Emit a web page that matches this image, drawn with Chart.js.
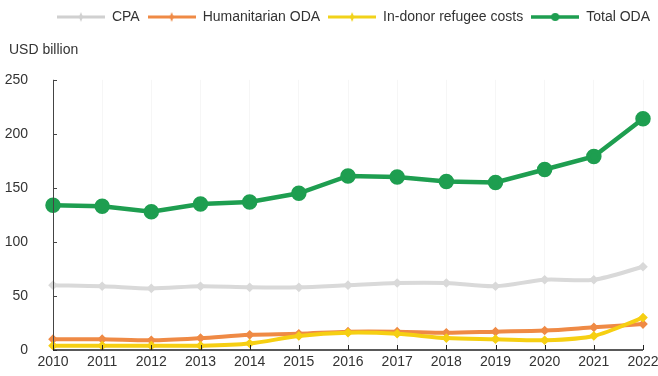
<!DOCTYPE html>
<html>
<head>
<meta charset="utf-8">
<script src="https://cdn.jsdelivr.net/npm/chart.js@4/dist/chart.umd.min.js"></script>
<style>
  html, body { margin: 0; padding: 0; background: #fff; }
  #wrap { width: 658px; height: 376px; }
</style>
</head>
<body>
<div id="wrap"><canvas id="oda-chart" width="658" height="376"></canvas></div>
<script>
// chart data
const years = ['2010', '2011', '2012', '2013', '2014', '2015', '2016', '2017', '2018', '2019', '2020', '2021', '2022'];
const cpa = [60, 59, 57, 59, 58, 58, 60, 62, 62, 59, 65, 65, 77];
const humanitarian = [10, 10, 9, 11, 14, 15, 17, 17, 16, 17, 18, 21, 24];
const refugeeCosts = [4, 4, 4, 4, 6, 13, 16, 15, 11, 10, 9, 13, 30];
const totalOda = [134, 133, 128, 135, 137, 145, 161, 160, 156, 155, 167, 179, 214];
const yTicks = [0, 50, 100, 150, 200, 250];
const unitLabel = 'USD billion';

const FONT = "'Liberation Sans Narrow', 'Arial Narrow', 'Liberation Sans', Arial, sans-serif";
const TEXT = '#333333';

// small canvas used as legend symbol: line with a marker in the middle
function legendIcon(color, big) {
  const c = document.createElement('canvas');
  c.width = 48; c.height = 12;
  const ctx = c.getContext('2d');
  ctx.strokeStyle = color;
  ctx.lineWidth = big ? 3.5 : 3;
  ctx.beginPath(); ctx.moveTo(0, 6); ctx.lineTo(48, 6); ctx.stroke();
  ctx.fillStyle = color;
  ctx.beginPath();
  if (big) {
    ctx.arc(24, 6, 4, 0, Math.PI * 2);
  } else {
    ctx.moveTo(24, 1); ctx.lineTo(26, 6); ctx.lineTo(24, 11); ctx.lineTo(22, 6); ctx.closePath();
  }
  ctx.fill();
  return c;
}

// inward tick marks, axis lines and the unit label
const axisTicks = {
  id: 'axisTicks',
  afterDatasetsDraw(chart) {
    const { ctx, chartArea, scales } = chart;
    ctx.save();
    ctx.strokeStyle = '#444';
    ctx.lineWidth = 1;
    ctx.beginPath();
    ctx.moveTo(chartArea.left + 0.5, chartArea.top);
    ctx.lineTo(chartArea.left + 0.5, chartArea.bottom);
    scales.y.ticks.forEach(t => {
      const y = Math.round(scales.y.getPixelForValue(t.value)) + 0.5;
      ctx.moveTo(chartArea.left, y);
      ctx.lineTo(chartArea.left + 4, y);
    });
    ctx.stroke();
    ctx.strokeStyle = '#222';
    ctx.lineWidth = 1.5;
    ctx.beginPath();
    ctx.moveTo(chartArea.left, chartArea.bottom);
    ctx.lineTo(chartArea.right, chartArea.bottom);
    ctx.stroke();
    ctx.lineWidth = 1;
    ctx.beginPath();
    years.forEach((yr, i) => {
      const x = Math.round(scales.x.getPixelForValue(i)) + 0.5;
      ctx.moveTo(x, chartArea.bottom);
      ctx.lineTo(x, chartArea.bottom - 5);
    });
    ctx.stroke();
    ctx.fillStyle = TEXT;
    ctx.font = '14px ' + FONT;
    ctx.textAlign = 'left';
    ctx.textBaseline = 'middle';
    ctx.fillText(unitLabel, 9, 50);
    ctx.restore();
  }
};

const chartCanvas = document.getElementById('oda-chart');
const chart = new Chart(chartCanvas, {
  type: 'line',
  data: {
    labels: years,
    datasets: [
      {
        label: 'CPA',
        data: cpa,
        borderColor: '#d9d9d9',
        backgroundColor: '#d9d9d9',
        borderWidth: 4,
        tension: 0.3,
        pointStyle: 'rectRot',
        pointRadius: 2,
        order: 3,
        legendIcon: legendIcon('#d0d0d0', false)
      },
      {
        label: 'Humanitarian ODA',
        data: humanitarian,
        borderColor: '#ef8a45',
        backgroundColor: '#ef8a45',
        borderWidth: 4,
        tension: 0.3,
        pointStyle: 'rectRot',
        pointRadius: 2,
        order: 2,
        legendIcon: legendIcon('#ef8a45', false)
      },
      {
        label: 'In-donor refugee costs',
        data: refugeeCosts,
        borderColor: '#f6cf12',
        backgroundColor: '#f6cf12',
        borderWidth: 4,
        tension: 0.3,
        pointStyle: 'rectRot',
        pointRadius: 2,
        order: 1,
        legendIcon: legendIcon('#f1d21a', false)
      },
      {
        label: 'Total ODA',
        data: totalOda,
        borderColor: '#1e9e50',
        backgroundColor: '#1e9e50',
        borderWidth: 4.5,
        tension: 0,
        pointStyle: 'circle',
        pointRadius: 5.5,
        order: 0,
        legendIcon: legendIcon('#1e9e50', true)
      }
    ]
  },
  options: {
    responsive: false,
    animation: false,
    devicePixelRatio: 1,
    layout: { padding: { left: 0, right: 0, top: 2, bottom: 0 } },
    plugins: {
      tooltip: { enabled: false },
      legend: {
        position: 'top',
        align: 'end',
        labels: {
          usePointStyle: true,
          pointStyleWidth: 48,
          padding: 8,
          color: TEXT,
          font: { family: FONT, size: 14 },
          generateLabels(ch) {
            return ch.data.datasets.map((ds, i) => ({
              text: ds.label,
              pointStyle: ds.legendIcon,
              fillStyle: ds.borderColor,
              strokeStyle: ds.borderColor,
              lineWidth: 0,
              fontColor: TEXT,
              hidden: false,
              datasetIndex: i
            }));
          }
        }
      },
      // spacer for the unit label, which the plugin above draws
      title: {
        display: true,
        text: unitLabel,
        align: 'start',
        weight: 500,
        color: 'rgba(0,0,0,0)',
        font: { family: FONT, size: 14, weight: 'normal' },
        padding: { top: 6, bottom: 23 }
      }
    },
    scales: {
      x: {
        offset: false,
        grid: { color: 'rgba(0,0,0,0.035)', drawTicks: false },
        border: { display: false },
        ticks: { color: TEXT, font: { family: FONT, size: 14 }, padding: 4, maxRotation: 0, autoSkip: false },
        afterFit(scale) { scale.height = 26; scale.paddingRight = 15; }
      },
      y: {
        min: 0,
        max: 250,
        afterBuildTicks(scale) { scale.ticks = yTicks.map(v => ({ value: v })); },
        grid: { display: false },
        border: { display: false },
        ticks: { color: TEXT, font: { family: FONT, size: 14 }, padding: 17 },
        afterFit(scale) { scale.width = 53; }
      }
    }
  },
  plugins: [axisTicks]
});
</script>
</body>
</html>
